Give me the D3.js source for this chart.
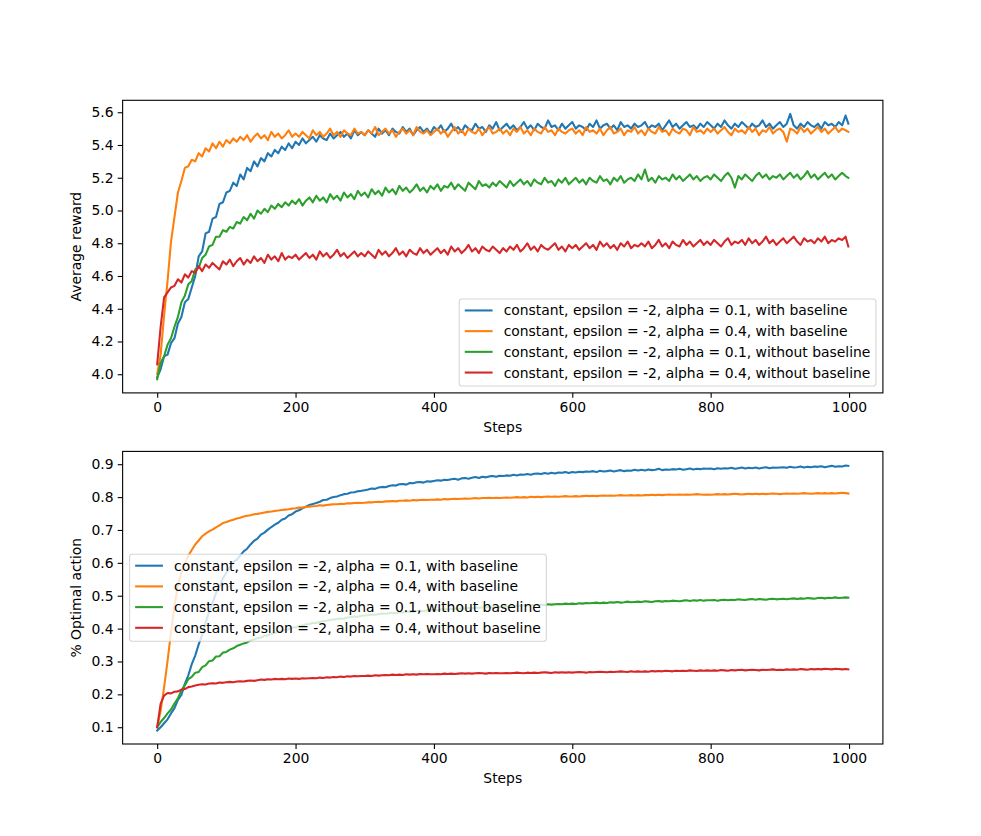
<!DOCTYPE html>
<html><head><meta charset="utf-8">
<script src="https://cdn.jsdelivr.net/npm/d3@7"></script>
<style>body{margin:0;background:#fff}svg{display:block}text{font-family:"DejaVu Sans",sans-serif;fill:#000}</style>
</head><body><svg id="c" width="981" height="836"></svg>
<script>
// ---------------- data ----------------
const LABELS = [
  "constant, epsilon = -2, alpha = 0.1, with baseline",
  "constant, epsilon = -2, alpha = 0.4, with baseline",
  "constant, epsilon = -2, alpha = 0.1, without baseline",
  "constant, epsilon = -2, alpha = 0.4, without baseline"
];
const COLORS = ["#1f77b4", "#ff7f0e", "#2ca02c", "#d62728"];
// sampled step indices: every 5th step, plus the last one
const STEPS = d3.range(0, 1000, 5).concat([999]);
const X_TICKS = [0, 200, 400, 600, 800, 1000];
const REWARD_TICKS = [4.0, 4.2, 4.4, 4.6, 4.8, 5.0, 5.2, 5.4, 5.6];
const OPTIMAL_TICKS = [0.1, 0.2, 0.3, 0.4, 0.5, 0.6, 0.7, 0.8, 0.9];

// Average reward
const REWARD_A01_BASE = [
3.98,4.03,4.11,4.12,4.19,4.22,4.31,4.35,4.44,4.46,4.53,4.60,4.72,4.75,4.86,4.87,4.95,4.96,5.04,5.05,
5.11,5.12,5.17,5.15,5.22,5.19,5.26,5.24,5.30,5.27,5.32,5.30,5.35,5.33,5.37,5.35,5.39,5.37,5.41,5.38,
5.42,5.40,5.44,5.41,5.43,5.45,5.42,5.46,5.44,5.43,5.47,5.44,5.46,5.48,5.45,5.47,5.44,5.49,5.46,5.48,
5.46,5.49,5.47,5.45,5.50,5.47,5.49,5.46,5.50,5.48,5.47,5.51,5.48,5.50,5.46,5.49,5.51,5.48,5.50,5.47,
5.51,5.49,5.52,5.48,5.50,5.53,5.49,5.51,5.48,5.52,5.50,5.49,5.53,5.50,5.51,5.48,5.52,5.50,5.54,5.49,
5.51,5.53,5.50,5.52,5.49,5.51,5.54,5.50,5.52,5.49,5.53,5.51,5.50,5.55,5.51,5.52,5.49,5.53,5.50,5.52,
5.54,5.50,5.52,5.51,5.49,5.53,5.51,5.55,5.50,5.52,5.53,5.50,5.52,5.49,5.54,5.51,5.52,5.50,5.53,5.51,
5.52,5.54,5.50,5.52,5.51,5.53,5.49,5.52,5.55,5.51,5.53,5.50,5.52,5.54,5.51,5.52,5.50,5.53,5.51,5.54,
5.52,5.50,5.53,5.51,5.55,5.52,5.50,5.53,5.51,5.54,5.52,5.50,5.53,5.51,5.52,5.55,5.51,5.53,5.50,5.52,
5.54,5.51,5.53,5.59,5.52,5.50,5.53,5.51,5.54,5.52,5.51,5.53,5.50,5.54,5.52,5.53,5.51,5.54,5.52,5.58,
5.53];
const REWARD_A04_BASE = [
4.00,4.12,4.36,4.57,4.81,4.96,5.11,5.18,5.26,5.27,5.31,5.30,5.35,5.33,5.38,5.36,5.41,5.38,5.42,5.39,
5.43,5.41,5.44,5.42,5.45,5.43,5.46,5.42,5.45,5.47,5.44,5.46,5.43,5.48,5.45,5.47,5.44,5.46,5.49,5.45,
5.47,5.45,5.48,5.46,5.44,5.49,5.46,5.48,5.45,5.47,5.50,5.46,5.48,5.45,5.49,5.47,5.46,5.50,5.47,5.48,
5.46,5.49,5.47,5.51,5.46,5.48,5.50,5.47,5.49,5.45,5.48,5.50,5.47,5.49,5.46,5.51,5.48,5.47,5.49,5.46,
5.48,5.50,5.47,5.49,5.45,5.48,5.51,5.47,5.49,5.46,5.50,5.48,5.47,5.50,5.46,5.49,5.51,5.47,5.48,5.50,
5.47,5.49,5.46,5.50,5.48,5.51,5.47,5.49,5.46,5.50,5.48,5.47,5.51,5.48,5.49,5.46,5.50,5.48,5.47,5.49,
5.50,5.47,5.49,5.46,5.51,5.48,5.49,5.47,5.50,5.46,5.49,5.51,5.47,5.48,5.50,5.46,5.49,5.48,5.51,5.47,
5.49,5.46,5.50,5.48,5.47,5.51,5.48,5.49,5.46,5.50,5.48,5.47,5.50,5.49,5.46,5.51,5.48,5.49,5.47,5.50,
5.48,5.50,5.47,5.49,5.51,5.48,5.46,5.50,5.48,5.49,5.47,5.51,5.48,5.50,5.46,5.49,5.48,5.51,5.47,5.49,
5.50,5.48,5.42,5.50,5.49,5.47,5.51,5.48,5.50,5.47,5.49,5.51,5.48,5.50,5.47,5.49,5.51,5.48,5.50,5.49,
5.48];
const REWARD_A01_NOBASE = [
3.97,4.07,4.11,4.18,4.22,4.29,4.35,4.44,4.48,4.55,4.57,4.64,4.65,4.71,4.73,4.78,4.79,4.84,4.84,4.88,
4.87,4.90,4.89,4.93,4.92,4.96,4.94,4.98,4.95,5.00,4.98,5.01,4.99,5.03,5.01,5.04,5.02,5.05,5.03,5.06,
5.04,5.07,5.03,5.06,5.08,5.05,5.09,5.06,5.08,5.05,5.10,5.07,5.09,5.06,5.11,5.08,5.10,5.07,5.12,5.09,
5.11,5.08,5.13,5.10,5.12,5.09,5.14,5.11,5.13,5.10,5.15,5.12,5.14,5.11,5.13,5.16,5.12,5.14,5.11,5.15,
5.13,5.16,5.12,5.15,5.14,5.17,5.13,5.16,5.14,5.12,5.17,5.15,5.13,5.18,5.15,5.16,5.14,5.17,5.15,5.18,
5.16,5.14,5.18,5.15,5.17,5.19,5.16,5.18,5.15,5.19,5.17,5.16,5.20,5.17,5.18,5.15,5.19,5.17,5.20,5.16,
5.18,5.20,5.17,5.19,5.16,5.20,5.18,5.17,5.21,5.18,5.19,5.16,5.20,5.18,5.21,5.17,5.19,5.20,5.18,5.22,
5.19,5.25,5.18,5.20,5.17,5.21,5.19,5.20,5.18,5.22,5.19,5.21,5.18,5.20,5.22,5.19,5.21,5.18,5.20,5.21,
5.19,5.22,5.20,5.18,5.21,5.23,5.20,5.14,5.21,5.19,5.22,5.20,5.18,5.21,5.23,5.20,5.22,5.19,5.21,5.20,
5.22,5.19,5.21,5.23,5.20,5.22,5.19,5.21,5.24,5.20,5.22,5.19,5.21,5.23,5.20,5.22,5.19,5.21,5.23,5.21,
5.20];
const REWARD_A04_NOBASE = [
4.06,4.29,4.47,4.50,4.53,4.54,4.58,4.56,4.61,4.59,4.63,4.62,4.66,4.63,4.67,4.65,4.68,4.66,4.64,4.69,
4.67,4.70,4.66,4.69,4.71,4.67,4.70,4.68,4.72,4.69,4.71,4.68,4.73,4.70,4.72,4.69,4.74,4.70,4.72,4.71,
4.73,4.70,4.72,4.74,4.71,4.73,4.70,4.75,4.72,4.74,4.71,4.73,4.76,4.72,4.74,4.71,4.73,4.75,4.72,4.74,
4.72,4.75,4.73,4.71,4.76,4.73,4.75,4.72,4.74,4.77,4.73,4.75,4.72,4.76,4.74,4.73,4.77,4.74,4.76,4.73,
4.75,4.77,4.74,4.76,4.73,4.78,4.75,4.77,4.74,4.76,4.79,4.75,4.77,4.74,4.78,4.76,4.75,4.78,4.76,4.74,
4.77,4.75,4.78,4.76,4.79,4.75,4.77,4.80,4.76,4.78,4.75,4.79,4.77,4.76,4.78,4.80,4.76,4.78,4.75,4.79,
4.77,4.79,4.76,4.78,4.80,4.77,4.79,4.76,4.81,4.78,4.80,4.77,4.79,4.76,4.80,4.78,4.81,4.77,4.79,4.78,
4.80,4.78,4.81,4.77,4.79,4.82,4.78,4.80,4.77,4.81,4.79,4.78,4.82,4.79,4.81,4.78,4.80,4.82,4.79,4.81,
4.79,4.82,4.80,4.78,4.81,4.83,4.79,4.81,4.80,4.82,4.79,4.83,4.80,4.82,4.79,4.81,4.84,4.80,4.82,4.79,
4.81,4.83,4.80,4.82,4.84,4.81,4.79,4.83,4.81,4.82,4.80,4.83,4.81,4.84,4.80,4.82,4.81,4.83,4.82,4.84,
4.78];

// % Optimal action
const OPTIMAL_A01_BASE = [
0.090,0.100,0.112,0.124,0.142,0.158,0.183,0.198,0.232,0.258,0.292,0.318,0.352,0.381,0.418,0.452,0.478,0.508,0.527,0.553,
0.570,0.586,0.603,0.609,0.622,0.635,0.643,0.656,0.667,0.674,0.686,0.692,0.701,0.709,0.716,0.722,0.731,0.735,0.744,0.748,
0.756,0.760,0.766,0.771,0.776,0.779,0.782,0.786,0.791,0.792,0.797,0.800,0.802,0.806,0.809,0.810,0.814,0.815,0.818,0.819,
0.821,0.823,0.826,0.825,0.829,0.831,0.830,0.834,0.836,0.835,0.839,0.840,0.838,0.843,0.842,0.845,0.846,0.844,0.848,0.847,
0.849,0.851,0.850,0.853,0.852,0.854,0.856,0.853,0.857,0.858,0.856,0.859,0.861,0.858,0.862,0.860,0.863,0.864,0.862,0.865,
0.864,0.866,0.865,0.868,0.866,0.869,0.868,0.870,0.868,0.871,0.872,0.870,0.873,0.871,0.874,0.872,0.875,0.874,0.876,0.873,
0.876,0.875,0.877,0.876,0.878,0.877,0.879,0.876,0.880,0.878,0.879,0.881,0.878,0.880,0.882,0.879,0.881,0.880,0.883,0.881,
0.883,0.881,0.884,0.882,0.883,0.886,0.882,0.884,0.883,0.885,0.884,0.886,0.883,0.885,0.887,0.884,0.886,0.885,0.887,0.886,
0.887,0.885,0.888,0.886,0.888,0.887,0.889,0.886,0.888,0.890,0.887,0.889,0.888,0.890,0.887,0.889,0.891,0.888,0.890,0.889,
0.890,0.891,0.889,0.892,0.890,0.891,0.893,0.890,0.892,0.891,0.893,0.892,0.894,0.891,0.893,0.895,0.892,0.894,0.893,0.896,
0.895];
const OPTIMAL_A04_BASE = [
0.100,0.150,0.221,0.302,0.389,0.468,0.531,0.571,0.598,0.622,0.639,0.656,0.668,0.681,0.689,0.696,0.701,0.708,0.714,0.721,
0.724,0.728,0.731,0.735,0.737,0.741,0.743,0.745,0.748,0.749,0.751,0.753,0.755,0.756,0.758,0.759,0.761,0.762,0.763,0.765,
0.766,0.768,0.768,0.770,0.771,0.772,0.773,0.775,0.774,0.776,0.777,0.778,0.778,0.780,0.779,0.781,0.781,0.782,0.783,0.782,
0.783,0.784,0.784,0.785,0.786,0.785,0.787,0.787,0.788,0.787,0.789,0.789,0.790,0.789,0.791,0.790,0.791,0.792,0.791,0.792,
0.792,0.793,0.792,0.794,0.793,0.794,0.795,0.794,0.795,0.796,0.795,0.796,0.797,0.796,0.797,0.797,0.798,0.797,0.798,0.797,
0.798,0.799,0.798,0.799,0.800,0.799,0.800,0.799,0.801,0.800,0.801,0.800,0.801,0.802,0.801,0.802,0.801,0.802,0.803,0.802,
0.802,0.803,0.802,0.803,0.804,0.803,0.804,0.803,0.804,0.805,0.804,0.805,0.804,0.805,0.806,0.805,0.805,0.806,0.805,0.806,
0.805,0.806,0.806,0.807,0.806,0.807,0.806,0.807,0.808,0.807,0.807,0.808,0.807,0.808,0.807,0.808,0.809,0.808,0.807,0.808,
0.807,0.808,0.809,0.808,0.809,0.808,0.809,0.810,0.809,0.808,0.809,0.810,0.809,0.810,0.809,0.810,0.809,0.810,0.811,0.810,
0.809,0.810,0.811,0.810,0.811,0.810,0.811,0.812,0.811,0.810,0.811,0.812,0.811,0.812,0.811,0.812,0.811,0.812,0.813,0.812,
0.811];
const OPTIMAL_A01_NOBASE = [
0.100,0.116,0.128,0.142,0.154,0.172,0.188,0.212,0.228,0.246,0.253,0.266,0.268,0.283,0.288,0.301,0.303,0.315,0.316,0.327,
0.329,0.336,0.340,0.347,0.351,0.355,0.358,0.364,0.367,0.371,0.373,0.378,0.380,0.384,0.386,0.391,0.393,0.397,0.398,0.403,
0.404,0.408,0.409,0.413,0.414,0.418,0.417,0.421,0.423,0.424,0.426,0.428,0.429,0.431,0.430,0.434,0.435,0.437,0.436,0.439,
0.440,0.441,0.443,0.442,0.444,0.446,0.445,0.447,0.448,0.447,0.450,0.449,0.451,0.452,0.451,0.453,0.454,0.453,0.455,0.456,
0.457,0.456,0.458,0.459,0.458,0.460,0.461,0.460,0.462,0.461,0.463,0.462,0.464,0.463,0.465,0.464,0.466,0.465,0.467,0.466,
0.468,0.467,0.469,0.468,0.470,0.469,0.471,0.470,0.472,0.471,0.472,0.473,0.472,0.474,0.473,0.474,0.475,0.474,0.476,0.475,
0.476,0.475,0.477,0.476,0.478,0.477,0.478,0.479,0.477,0.479,0.478,0.480,0.479,0.481,0.479,0.480,0.482,0.480,0.481,0.482,
0.481,0.483,0.482,0.481,0.483,0.484,0.482,0.484,0.483,0.485,0.484,0.483,0.485,0.486,0.484,0.486,0.485,0.487,0.485,0.486,
0.486,0.487,0.485,0.487,0.488,0.486,0.488,0.487,0.489,0.488,0.487,0.489,0.490,0.488,0.490,0.489,0.488,0.490,0.491,0.489,
0.490,0.491,0.489,0.491,0.492,0.490,0.492,0.491,0.493,0.492,0.491,0.493,0.494,0.492,0.494,0.493,0.495,0.493,0.494,0.495,
0.494];
const OPTIMAL_A04_NOBASE = [
0.100,0.172,0.196,0.204,0.203,0.208,0.209,0.214,0.216,0.222,0.224,0.227,0.229,0.231,0.230,0.233,0.234,0.233,0.236,0.235,
0.237,0.238,0.237,0.239,0.240,0.239,0.241,0.242,0.241,0.243,0.245,0.244,0.246,0.245,0.247,0.246,0.247,0.246,0.248,0.247,
0.248,0.247,0.249,0.248,0.249,0.250,0.249,0.251,0.250,0.252,0.251,0.253,0.252,0.254,0.253,0.255,0.254,0.256,0.255,0.256,
0.256,0.257,0.256,0.258,0.257,0.258,0.259,0.258,0.260,0.259,0.260,0.259,0.261,0.260,0.261,0.260,0.262,0.261,0.262,0.261,
0.261,0.262,0.261,0.263,0.262,0.263,0.262,0.263,0.264,0.263,0.264,0.263,0.264,0.265,0.264,0.263,0.265,0.264,0.265,0.264,
0.264,0.265,0.264,0.265,0.266,0.265,0.264,0.266,0.265,0.266,0.265,0.266,0.267,0.266,0.265,0.267,0.266,0.267,0.266,0.267,
0.266,0.267,0.268,0.267,0.266,0.268,0.267,0.268,0.269,0.268,0.267,0.269,0.268,0.269,0.270,0.269,0.268,0.270,0.269,0.270,
0.269,0.270,0.269,0.271,0.270,0.271,0.270,0.272,0.271,0.270,0.272,0.271,0.272,0.271,0.273,0.272,0.271,0.273,0.272,0.273,
0.272,0.273,0.272,0.274,0.273,0.272,0.274,0.273,0.274,0.275,0.273,0.274,0.275,0.274,0.273,0.275,0.274,0.275,0.276,0.274,
0.275,0.274,0.276,0.275,0.276,0.275,0.277,0.276,0.275,0.277,0.276,0.277,0.276,0.278,0.277,0.276,0.278,0.277,0.276,0.277,
0.276];

// ---------------- drawing ----------------
const FS = 13.9;            // 10pt at 100 dpi
const svg = d3.select("#c");
const W = 981, H = 836;
const AX_L = 0.125 * W, AX_R = 0.9 * W;

function panel(idx, top, bottom, series, yDomain, yTicks, yLabel, legendMode) {
  const g = svg.append("g");
  const x = d3.scaleLinear().domain([-49.95, 1048.95]).range([AX_L, AX_R]);
  const y = d3.scaleLinear().domain(yDomain).range([bottom, top]);

  const clipId = "clip" + idx;
  svg.append("defs").append("clipPath").attr("id", clipId)
    .append("rect").attr("x", AX_L).attr("y", top).attr("width", AX_R - AX_L).attr("height", bottom - top);

  const line = d3.line().x((d, i) => x(STEPS[i])).y(d => y(d));
  const lg = g.append("g").attr("clip-path", `url(#${clipId})`);
  series.forEach((s, k) => {
    lg.append("path").attr("d", line(s)).attr("fill", "none")
      .attr("stroke", COLORS[k]).attr("stroke-width", 2.08)
      .attr("stroke-linejoin", "round").attr("stroke-linecap", "square");
  });

  // axes
  const xAxis = d3.axisBottom(x).tickValues(X_TICKS).tickFormat(d3.format("d"))
    .tickSize(4.9).tickPadding(4.2);
  const gx = g.append("g").attr("transform", `translate(0,${bottom})`).call(xAxis);
  const yAxis = d3.axisLeft(y).tickValues(yTicks).tickFormat(d3.format(".1f"))
    .tickSize(4.9).tickPadding(4.2);
  const gy = g.append("g").attr("transform", `translate(${AX_L},0)`).call(yAxis);
  [gx, gy].forEach(a => {
    a.select(".domain").remove();
    a.selectAll(".tick line").attr("stroke", "#000").attr("stroke-width", 1.1);
    a.selectAll(".tick text").attr("font-size", FS).attr("font-family", "DejaVu Sans").attr("fill", "#000");
  });

  // spines
  g.append("rect").attr("x", AX_L).attr("y", top).attr("width", AX_R - AX_L).attr("height", bottom - top)
    .attr("fill", "none").attr("stroke", "#000").attr("stroke-width", 1.1);

  // labels
  g.append("text").attr("x", (AX_L + AX_R) / 2).attr("y", bottom + 39)
    .attr("text-anchor", "middle").attr("font-size", FS).text("Steps");
  g.append("text").attr("transform", `translate(81,${(top + bottom) / 2}) rotate(-90)`)
    .attr("text-anchor", "middle").attr("font-size", FS).text(yLabel);

  // legend
  const pad = 0.4 * FS, handleLen = 2 * FS, handlePad = 0.8 * FS, rowPitch = 20.7;
  const lgG = g.append("g");
  const tmp = lgG.append("text").attr("font-size", FS);
  let tw = 0;
  LABELS.forEach(l => { tmp.text(l); tw = Math.max(tw, tmp.node().getComputedTextLength()); });
  tmp.remove();
  const boxW = pad + handleLen + handlePad + tw + pad;
  const boxH = 87;
  const gap = 0.5 * FS;
  let bx, by;
  if (legendMode === "lower right") { bx = AX_R - gap - boxW; by = bottom - gap - boxH; }
  else { bx = AX_L + gap; by = (top + bottom) / 2 - boxH / 2; }
  lgG.append("rect").attr("x", bx).attr("y", by).attr("width", boxW).attr("height", boxH)
    .attr("rx", 2.8).attr("fill", "#fff").attr("fill-opacity", 0.8)
    .attr("stroke", "#cccccc").attr("stroke-opacity", 0.8).attr("stroke-width", 1.1);
  LABELS.forEach((l, k) => {
    const cy = by + 11.5 + k * rowPitch;
    lgG.append("line").attr("x1", bx + pad).attr("x2", bx + pad + handleLen)
      .attr("y1", cy).attr("y2", cy).attr("stroke", COLORS[k]).attr("stroke-width", 2.08);
    lgG.append("text").attr("x", bx + pad + handleLen + handlePad).attr("y", cy + 5)
      .attr("font-size", FS).text(l);
  });
}

panel(0, 100.3, 392.9,
  [REWARD_A01_BASE, REWARD_A04_BASE, REWARD_A01_NOBASE, REWARD_A04_NOBASE],
  [3.886, 5.673], REWARD_TICKS, "Average reward", "lower right");
panel(1, 451.4, 744.0,
  [OPTIMAL_A01_BASE, OPTIMAL_A04_BASE, OPTIMAL_A01_NOBASE, OPTIMAL_A04_NOBASE],
  [0.049, 0.939], OPTIMAL_TICKS, "% Optimal action", "center left");
</script></body></html>
